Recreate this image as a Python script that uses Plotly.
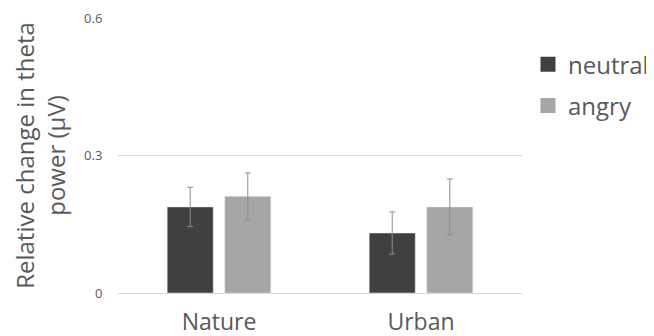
import plotly.graph_objects as go

categories = ["Nature", "Urban"]
neutral = [0.188, 0.131]
neutral_err = [0.043, 0.046]
angry = [0.211, 0.188]
angry_err = [0.051, 0.061]
y_ticks = [0, 0.3, 0.6]
y_tick_labels = ["0", "0.3", "0.6"]

c_neutral = "#404040"
c_angry = "#a8a5a5"
txt = "#595959"

fig = go.Figure()
fig.add_trace(go.Bar(x=categories, y=neutral, name="neutral", marker_color=c_neutral,
                     error_y=dict(type="data", array=neutral_err, color="#8c8c8c", thickness=1, width=3),
                     showlegend=False))
fig.add_trace(go.Bar(x=categories, y=angry, name="angry", marker_color=c_angry,
                     error_y=dict(type="data", array=angry_err, color="#8c8c8c", thickness=1, width=3),
                     showlegend=False))
for name, col in [("neutral", c_neutral), ("angry", c_angry)]:
    fig.add_trace(go.Scatter(x=[None], y=[None], mode="markers", name=name, legendgroup=name,
                             marker=dict(symbol="square", size=15, color=col)))

# the page body has an 8px default margin, so the figure is sized to fit the 654x336 window
fig.update_layout(
    width=646, height=328,
    margin=dict(l=110, r=132, t=10, b=43, autoexpand=False),
    paper_bgcolor="white", plot_bgcolor="white",
    font=dict(family="Open Sans", color=txt),
    barmode="group", bargap=0.43, bargroupgap=0.2,
    legend=dict(x=1.3267, xanchor="right", y=0.912, yanchor="top",
                font=dict(size=24, color=txt), tracegroupgap=7,
                itemwidth=30, bgcolor="rgba(0,0,0,0)"),
)
fig.update_yaxes(range=[0, 0.6005], tickvals=y_ticks, ticktext=y_tick_labels, automargin=False,
                 showgrid=True, gridcolor="#d9d9d9", gridwidth=1,
                 zeroline=True, zerolinecolor="#d9d9d9", zerolinewidth=1, showline=False,
                 tickfont=dict(size=13, color=txt), ticks="outside", ticklen=12, tickcolor="rgba(0,0,0,0)",
                 title=dict(text="Relative change in theta<br>power (μV)", font=dict(size=24, color=txt), standoff=14))
fig.update_xaxes(showline=False, automargin=False, tickfont=dict(size=23, color=txt), ticks="outside", ticklen=8,
                 tickcolor="rgba(0,0,0,0)")

fig.write_html("out.html")
